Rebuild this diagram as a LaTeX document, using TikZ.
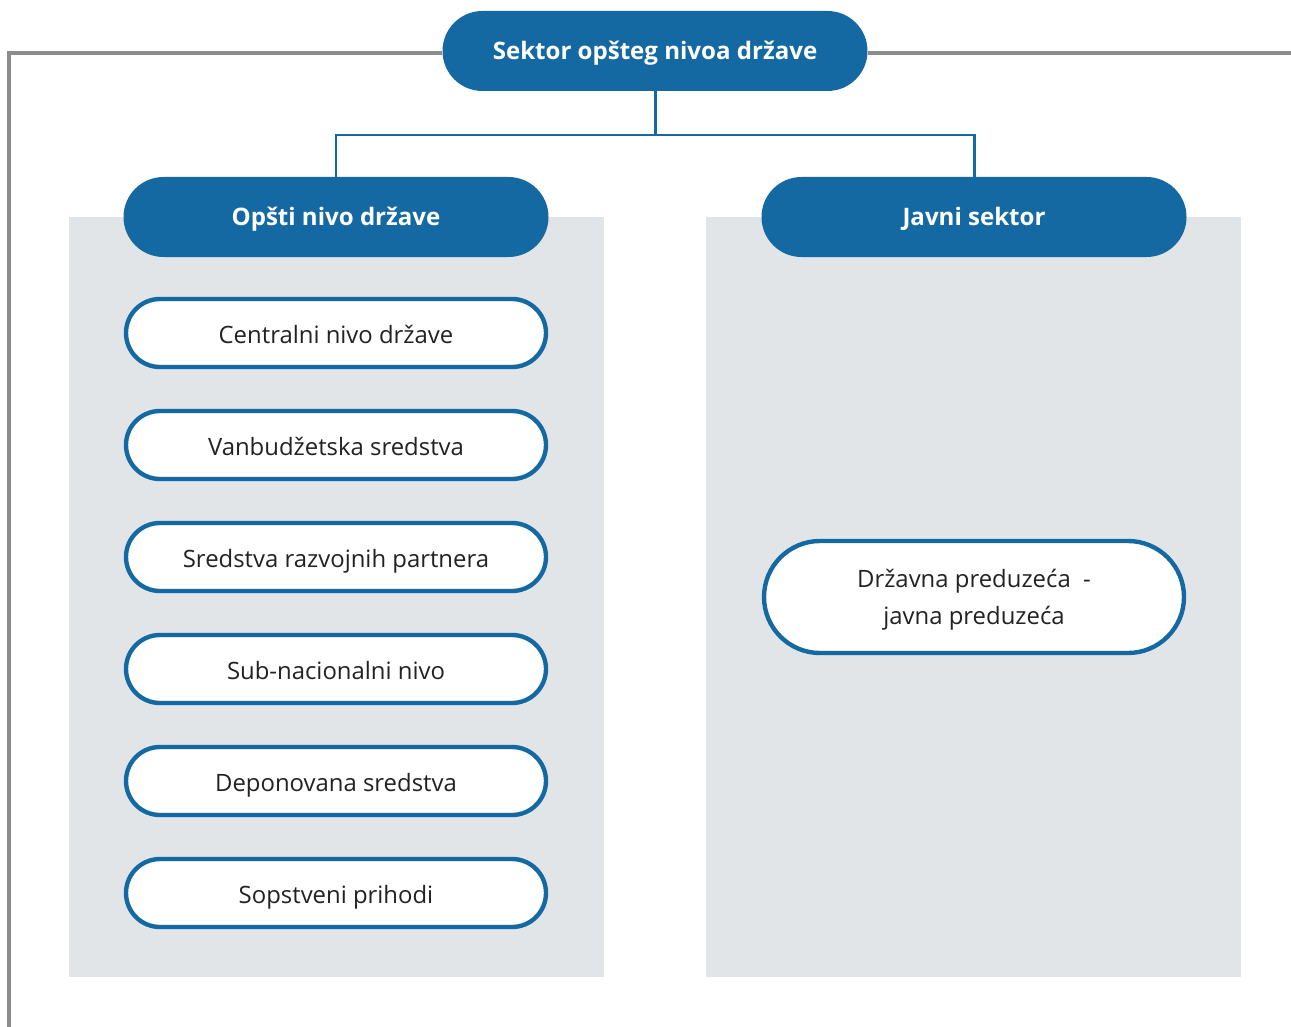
\documentclass[tikz,border=0pt]{standalone}
\usepackage{fontspec}
\setmainfont{Open Sans}
\usepackage{tikz}

\definecolor{plava}{HTML}{1569A3}
\definecolor{panel}{HTML}{E1E5E8}
\definecolor{okvir}{HTML}{8C8C8C}
\definecolor{tekst}{HTML}{222222}

\tikzset{
  glavni/.style={fill=plava,text=white,font=\fontsize{13.7}{16}\selectfont\bfseries,
    minimum width=425*0.02cm,minimum height=80*0.02cm,rounded corners=40*0.02cm,inner sep=0pt,
    text height=10.2pt,text depth=0pt},
  stavka/.style={draw=plava,fill=white,line width=2.5pt,text=tekst,font=\fontsize{13.6}{21}\selectfont,
    minimum width=420*0.02cm,minimum height=68*0.02cm,rounded corners=34*0.02cm,inner sep=0pt,align=center},
  veza/.style={draw=plava,line width=1.7pt},
  okvirlinija/.style={draw=okvir,line width=1.9pt}
}

\begin{document}
\begin{tikzpicture}[x=0.02cm,y=-0.02cm]
			\useasboundingbox (0,0) rectangle (1291,1027);
			
			% sive pozadine za dvije kolone
			\fill[panel] (69,217) rectangle (604,977);
			\fill[panel] (706,217) rectangle (1241,977);
			
			% zaglavlja
			\node[glavni] (sektor) at (655,51) {Sektor opšteg nivoa države};
			\node[glavni] (opsti) at (336,217) {Opšti nivo države};
			\node[glavni] (javni) at (974,217) {Javni sektor};
			
			% okvir oko cijelog sektora
			\coordinate (dole) at (9,1027);
			\coordinate (ugao) at (9,53);
			\coordinate (desno) at (1291,53);
			\draw[okvirlinija] (dole) -- (ugao) -- (sektor.west |- ugao);
			\draw[okvirlinija] (sektor.east |- desno) -- (desno);
			
			% grananje
			\coordinate (racva) at (655,135);
			\draw[veza] (sektor.south) -- (racva);
			\draw[veza] (opsti.north) |- (racva) -| (javni.north);
			
			% stavke opšteg nivoa
			\foreach \ime/\tekst [count=\i from 0] in {c1/Centralni nivo države,c2/Vanbudžetska sredstva,c3/Sredstva razvojnih partnera,c4/Sub-nacionalni nivo,c5/Deponovana sredstva,c6/Sopstveni prihodi}
			\node[stavka,text height=11.4pt,text depth=0pt] (\ime) at (336,333+112*\i) {\tekst};
			
			\node[stavka,minimum height=112*0.02cm,rounded corners=56*0.02cm,text depth=0pt] (preduzeca) at (974,597) {Državna preduzeća\ \ -\\javna preduzeća};
\end{tikzpicture}
\end{document}
